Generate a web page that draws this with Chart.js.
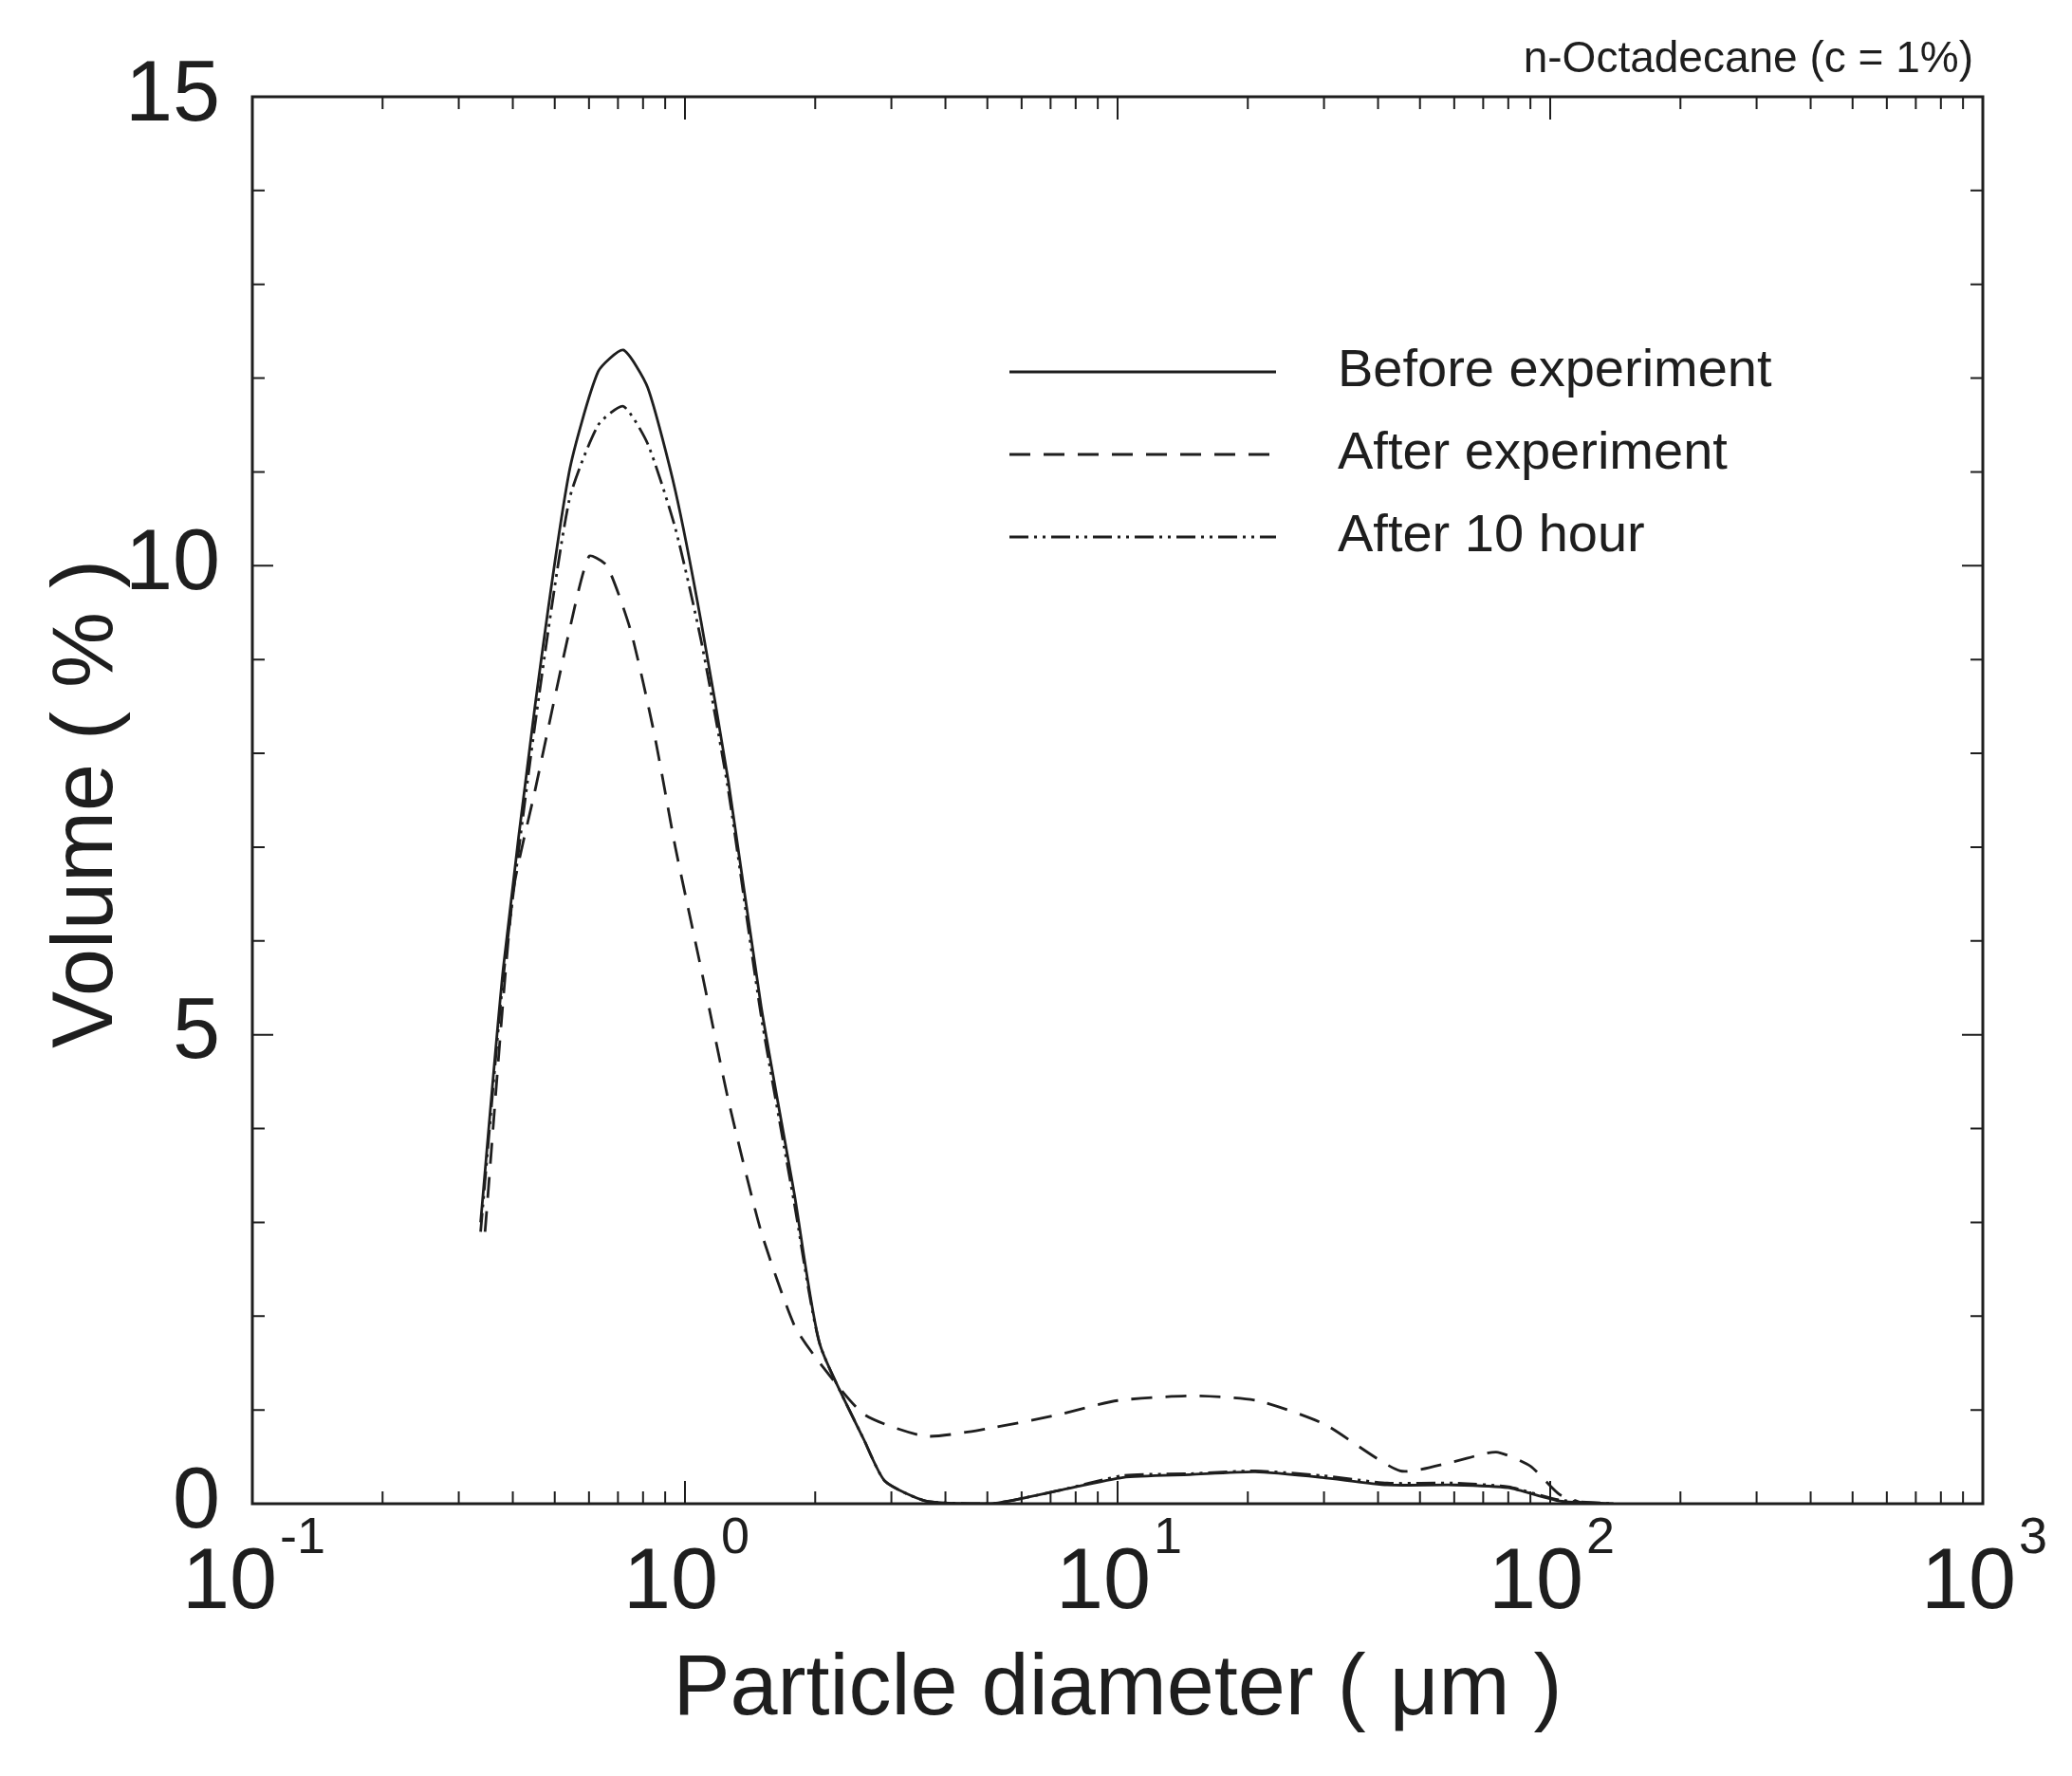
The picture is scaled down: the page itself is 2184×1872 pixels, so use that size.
<!DOCTYPE html>
<html><head><meta charset="utf-8">
<script src="https://cdn.jsdelivr.net/npm/chart.js@4/dist/chart.umd.min.js"></script>
<style>html,body{margin:0;padding:0;background:#fff}#w{width:2184px;height:1872px}</style>
</head><body><div id="w"><canvas id="c"></canvas></div>
<script>
const diameters = [0.337,0.38,0.45,0.54,0.63,0.72,0.82,0.95,1.09,1.26,1.5,1.79,2.05,2.6,2.9,3.6,5.1,7.3,10.3,14.7,20.8,29.7,42,60,80,105,140];
const before   = [3.0,5.7,8.5,11.0,12.07,12.3,11.9,10.8,9.4,7.7,5.3,3.3,1.7,0.67,0.24,0.03,0,0.14,0.28,0.31,0.34,0.28,0.2,0.2,0.17,0.03,0];
const after10h = [2.9,5.6,8.3,10.7,11.5,11.7,11.3,10.4,9.2,7.6,5.2,3.2,1.7,0.67,0.24,0.03,0,0.14,0.3,0.32,0.35,0.3,0.22,0.22,0.18,0.04,0];
const afterDiam = [0.345,0.4,0.45,0.54,0.6,0.66,0.75,0.85,0.95,1.09,1.26,1.5,1.79,2.05,2.6,3.6,5,7.3,10,15,21,30,45,60,75,90,105,120];
const afterExp = [2.9,6.5,7.6,9.3,10.1,10.0,9.3,8.2,7.0,5.7,4.3,2.9,1.9,1.5,0.95,0.72,0.8,0.95,1.1,1.15,1.1,0.85,0.35,0.45,0.55,0.4,0.1,0];
const xTickLabels = [["10","-1"],["10","0"],["10","1"],["10","2"],["10","3"]];
const seriesNames = ["Before experiment","After experiment","After 10 hour"];
const pts = (xs,ys)=>xs.map((x,i)=>({x,y:ys[i]}));
const ink = '#1e1e1e';
const dashes = [[],[22,14],[20,6,3,6,3,6]];
const F = '"Liberation Sans", Arial';

const deco = {
  id:'deco',
  afterDraw(ch){
    const c=ch.ctx, a=ch.chartArea, xs=ch.scales.x, ys=ch.scales.y;
    c.save();
    c.strokeStyle=ink; c.lineWidth=3;
    c.strokeRect(a.left,a.top,a.right-a.left,a.bottom-a.top);
    c.lineWidth=2;
    for(let v=0;v<=15;v++){
      const y=ys.getPixelForValue(v), L=(v%5===0)?22:13;
      c.beginPath();c.moveTo(a.left,y);c.lineTo(a.left+L,y);c.moveTo(a.right,y);c.lineTo(a.right-L,y);c.stroke();
    }
    for(let e=-1;e<3;e++){for(let m=1;m<10;m++){
      const v=m*Math.pow(10,e), x=xs.getPixelForValue(v), L=(m===1)?24:13;
      c.beginPath();c.moveTo(x,a.bottom);c.lineTo(x,a.bottom-L);c.moveTo(x,a.top);c.lineTo(x,a.top+L);c.stroke();
    }}
    const xe=xs.getPixelForValue(1000);
    c.beginPath();c.moveTo(xe,a.bottom);c.lineTo(xe,a.bottom-24);c.stroke();
    c.fillStyle=ink; c.textBaseline='alphabetic'; c.textAlign='left';
    xTickLabels.forEach((t,i)=>{
      const x=xs.getPixelForValue(Math.pow(10,i-1));
      c.font='90px '+F;
      const w1=c.measureText(t[0]).width;
      c.font='54px '+F;
      const w2=c.measureText(t[1]).width;
      const x0=x-(w1+w2)/2;
      c.font='90px '+F;
      c.fillText(t[0],x0,a.bottom+110);
      c.font='54px '+F;
      c.fillText(t[1],x0+w1+3,a.bottom+52);
    });
    c.font='90px '+F; c.textAlign='center';
    c.fillText('Particle diameter ( \u03bcm )',(a.left+a.right)/2,a.bottom+222);
    c.save(); c.translate(118,(a.top+a.bottom)/2+4); c.rotate(-Math.PI/2);
    c.fillText('Volume ( % )',0,0); c.restore();
    c.font='46px '+F; c.textAlign='right';
    c.fillText('n-Octadecane (c = 1%)',2080,76);
    c.font='56px '+F; c.textAlign='left'; c.textBaseline='middle';
    seriesNames.forEach((n,i)=>{
      const y=392+i*87;
      c.setLineDash(dashes[i]); c.lineWidth=2.8;
      c.beginPath();c.moveTo(1064,y);c.lineTo(1345,y);c.stroke();
      c.setLineDash([]);
      c.fillText(n,1410,y);
    });
    c.restore();
  }
};

new Chart(document.getElementById('c'),{
  type:'line',
  data:{datasets:[
    {label:seriesNames[0],data:pts(diameters,before),borderDash:dashes[0]},
    {label:seriesNames[1],data:pts(afterDiam,afterExp),borderDash:dashes[1]},
    {label:seriesNames[2],data:pts(diameters,after10h),borderDash:dashes[2]}
  ].map(d=>Object.assign(d,{borderColor:ink,borderWidth:2.8,pointRadius:0,tension:0.2,fill:false}))},
  options:{
    responsive:true,maintainAspectRatio:false,animation:false,devicePixelRatio:1,
    layout:{padding:{top:102,right:94,left:0,bottom:0}},
    plugins:{legend:{display:false},tooltip:{enabled:false}},
    scales:{
      x:{type:'logarithmic',min:0.1,max:1000,grid:{display:false},border:{display:false},
         ticks:{display:false},afterFit(s){s.height=287;}},
      y:{min:0,max:15,grid:{display:false},border:{display:false},
         ticks:{stepSize:5,color:ink,font:{size:90,family:F},padding:26},
         afterFit(s){s.width=266;}}
    }
  },
  plugins:[deco]
});
</script></body></html>
